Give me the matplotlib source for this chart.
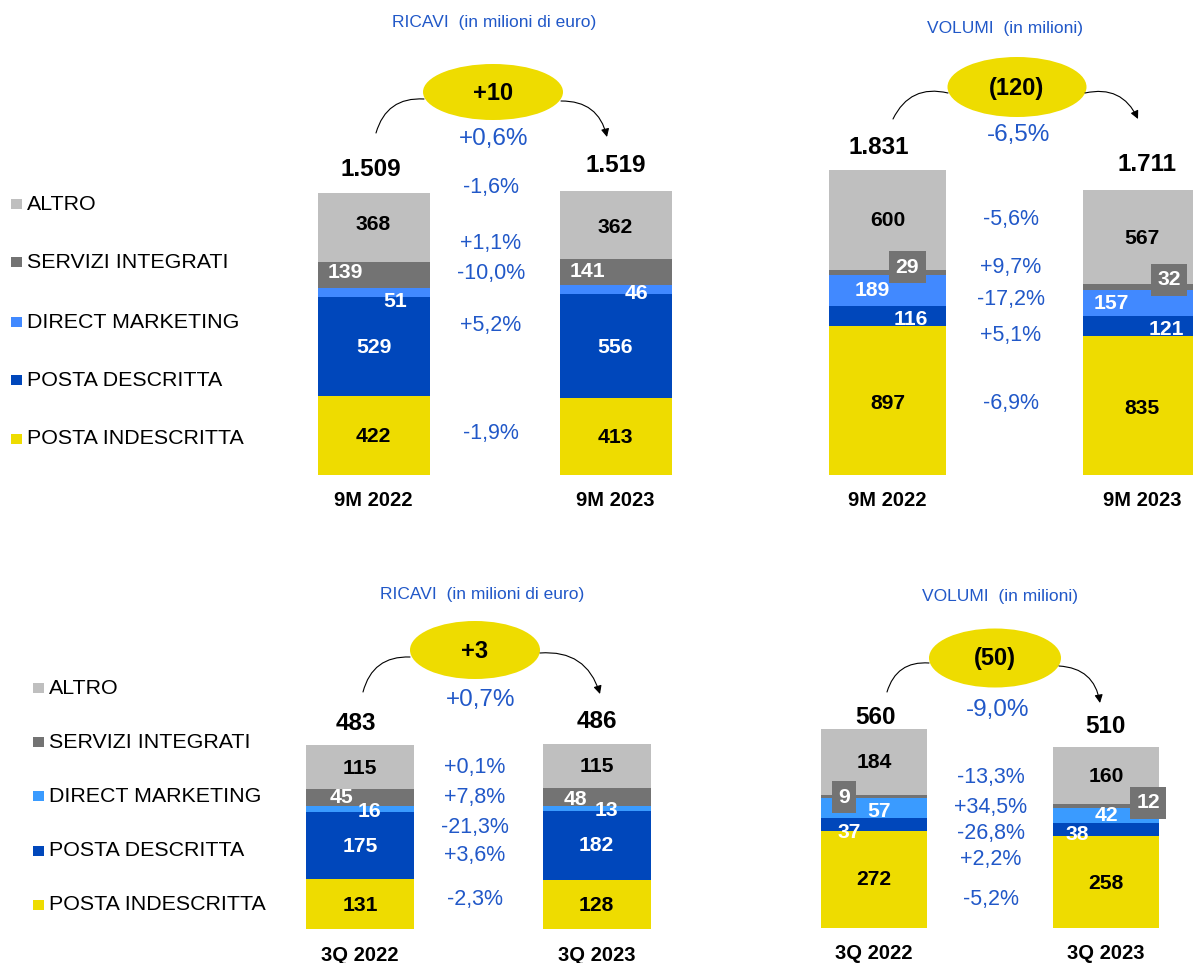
import matplotlib
matplotlib.use("Agg")
import matplotlib.pyplot as plt
from matplotlib.patches import Ellipse, FancyArrowPatch
from matplotlib.transforms import ScaledTranslation

plt.rcParams['font.family'] = ['Liberation Sans', 'DejaVu Sans']

W, H = 1193, 963

# segments, bottom to top
categorie = ["POSTA INDESCRITTA", "POSTA DESCRITTA", "DIRECT MARKETING",
             "SERVIZI INTEGRATI", "ALTRO"]

ricavi_9m_2022 = [422, 529, 51, 139, 368]
ricavi_9m_2023 = [413, 556, 46, 141, 362]
volumi_9m_2022 = [897, 116, 189, 29, 600]
volumi_9m_2023 = [835, 121, 157, 32, 567]
ricavi_3q_2022 = [131, 175, 16, 45, 115]
ricavi_3q_2023 = [128, 182, 13, 48, 115]
volumi_3q_2022 = [272, 37, 57, 9, 184]
volumi_3q_2023 = [258, 38, 42, 12, 160]

totali_ricavi_9m = ["1.509", "1.519"]
totali_volumi_9m = ["1.831", "1.711"]
totali_ricavi_3q = ["483", "486"]
totali_volumi_3q = ["560", "510"]

periodi_9m = ["9M 2022", "9M 2023"]
periodi_3q = ["3Q 2022", "3Q 2023"]

# variations per segment, top to bottom (ALTRO first)
var_ricavi_9m = ["-1,6%", "+1,1%", "-10,0%", "+5,2%", "-1,9%"]
var_volumi_9m = ["-5,6%", "+9,7%", "-17,2%", "+5,1%", "-6,9%"]
var_ricavi_3q = ["+0,1%", "+7,8%", "-21,3%", "+3,6%", "-2,3%"]
var_volumi_3q = ["-13,3%", "+34,5%", "-26,8%", "+2,2%", "-5,2%"]

delta_ricavi_9m, delta_pct_ricavi_9m = "+10", "+0,6%"
delta_volumi_9m, delta_pct_volumi_9m = "(120)", "-6,5%"
delta_ricavi_3q, delta_pct_ricavi_3q = "+3", "+0,7%"
delta_volumi_3q, delta_pct_volumi_3q = "(50)", "-9,0%"

YELLOW = "#EEDC00"
DBLUE = "#0047BB"
LBLUE_TOP = "#4189FF"
LBLUE_BOT = "#3A9BFF"
DGRAY = "#737373"
LGRAY = "#BFBFBF"
TXT_BLUE = "#2158C8"

INK = ["black", "white", "white", "white", "black"]

fig = plt.figure(figsize=(W / 100, H / 100), dpi=100)

panels = [
    dict(series=[ricavi_9m_2022, ricavi_9m_2023], totals=totali_ricavi_9m,
         periods=periodi_9m, var=var_ricavi_9m,
         delta=delta_ricavi_9m, delta_pct=delta_pct_ricavi_9m,
         title="RICAVI  (in milioni di euro)", lblue=LBLUE_TOP,
         base=475, scale=0.1869, cx=[373.5, 615.5], bw=112,
         offs=[[(0, 1), (0, 1), (22, 9), (-28, -2), (0, -3)],
               [(0, 1), (0, 2), (21, 4), (-28, -1), (0, 2)]],
         boxed=[], tot_off=[(-3, 23), (0, 26)], cat_y=500,
         title_xy=(494, 23), ell=(493, 92, 140, 56), dpct_xy=(494, 139),
         arcs=[((376, 133), (424, 99)), ((561, 101), (607, 137))],
         var_x=491, var_y=[187, 243, 274, 326, 433]),
    dict(series=[volumi_9m_2022, volumi_9m_2023], totals=totali_volumi_9m,
         periods=periodi_9m, var=var_volumi_9m,
         delta=delta_volumi_9m, delta_pct=delta_pct_volumi_9m,
         title="VOLUMI  (in milioni)", lblue=LBLUE_TOP,
         base=475, scale=0.1666, cx=[887.5, 1142], bw=118,
         offs=[[(0, 3), (23, 4), (-15, 0), (20, -5), (0, 1)],
               [(0, 3), (24, 4), (-31, 1), (27, -7), (0, 1)]],
         boxed=[3], tot_off=[(-9, 22), (5, 25)], cat_y=500,
         title_xy=(1005, 28), ell=(1017, 87, 139, 60), dpct_xy=(1019, 135),
         arcs=[((893, 119), (948, 93)), ((1085, 93), (1138, 119))],
         var_x=1011, var_y=[220, 268, 300, 336, 404]),
    dict(series=[ricavi_3q_2022, ricavi_3q_2023], totals=totali_ricavi_3q,
         periods=periodi_3q, var=var_ricavi_3q,
         delta=delta_ricavi_3q, delta_pct=delta_pct_ricavi_3q,
         title="RICAVI  (in milioni di euro)", lblue=LBLUE_BOT,
         base=929, scale=0.381, cx=[360, 596.5], bw=108,
         offs=[[(0, 1), (0, 1), (9, 2), (-18, 0), (0, 1)],
               [(0, 1), (0, 0), (10, 2), (-21, 3), (0, 1)]],
         boxed=[], tot_off=[(-4, 22), (0, 22)], cat_y=955,
         title_xy=(482, 594), ell=(475, 650, 130, 58), dpct_xy=(481, 700),
         arcs=[((363, 692), (410, 657)), ((540, 653), (600, 694))],
         var_x=475, var_y=[767, 798, 827, 856, 900]),
    dict(series=[volumi_3q_2022, volumi_3q_2023], totals=totali_volumi_3q,
         periods=periodi_3q, var=var_volumi_3q,
         delta=delta_volumi_3q, delta_pct=delta_pct_volumi_3q,
         title="VOLUMI  (in milioni)", lblue=LBLUE_BOT,
         base=928, scale=0.3554, cx=[874, 1106], bw=106,
         offs=[[(0, 0), (-25, 8), (5, 3), (-30, 1), (0, 0)],
               [(0, 1), (-29, 5), (0, 0), (42, -3), (0, 1)]],
         boxed=[3], tot_off=[(2, 12), (-1, 20)], cat_y=953,
         title_xy=(1000, 597), ell=(995, 658, 132, 59), dpct_xy=(998, 710),
         arcs=[((887, 692), (929, 663)), ((1059, 666), (1100, 703))],
         var_x=991, var_y=[777, 807, 834, 860, 899]),
]

HPX = 340
for p in panels:
    cx0, cx1 = p["cx"]
    bw = p["bw"]
    left = cx0 - bw / 2
    right = cx1 + bw / 2
    ax = fig.add_axes([left / W, 1 - p["base"] / H, (right - left) / W, HPX / H])
    wd = bw / (cx1 - cx0)
    ax.set_xlim(-wd / 2, 1 + wd / 2)
    ax.set_ylim(0, HPX / p["scale"])
    ax.axis("off")
    colors = [YELLOW, DBLUE, p["lblue"], DGRAY, LGRAY]

    for i, vals in enumerate(p["series"]):
        bottom = 0
        for k, v in enumerate(vals):
            ax.bar(i, v, bottom=bottom, width=wd, color=colors[k], linewidth=0)
            dx, dy = p["offs"][i][k]
            tr = ax.transData + ScaledTranslation(dx / 100, -dy / 100, fig.dpi_scale_trans)
            kw = {}
            if k in p["boxed"]:
                kw["bbox"] = dict(boxstyle="square,pad=0.3", fc=DGRAY, ec="none")
            ax.text(i, bottom + v / 2, str(v), transform=tr, ha="center", va="center",
                    fontsize=15.2, fontweight="bold", color=INK[k], clip_on=False, **kw)
            bottom += v
        dx, dy = p["tot_off"][i]
        tr = ax.transData + ScaledTranslation(dx / 100, dy / 100, fig.dpi_scale_trans)
        ax.text(i, bottom, p["totals"][i], transform=tr, ha="center", va="center",
                fontsize=17.5, fontweight="bold", color="black", clip_on=False)
        # period label under each bar
        ax.text(i, 0, p["periods"][i], ha="center", va="center", fontsize=14.5,
                fontweight="bold", clip_on=False,
                transform=ax.transData + ScaledTranslation(0, -(p["cat_y"] - p["base"]) / 100,
                                                           fig.dpi_scale_trans))

# overlay in pixel coordinates for titles, bubbles, arrows, variations and legends
ov = fig.add_axes([0, 0, 1, 1], zorder=5)
ov.set_xlim(0, W)
ov.set_ylim(H, 0)
ov.axis("off")
ov.patch.set_alpha(0)

for p in panels:
    ov.text(*p["title_xy"], p["title"], ha="center", va="center", fontsize=12.5, color=TXT_BLUE)
    ex, ey, ew, eh = p["ell"]
    ov.add_patch(Ellipse((ex, ey), ew, eh, fc=YELLOW, ec="none"))
    ov.text(ex, ey + 1, p["delta"], ha="center", va="center", fontsize=17,
            fontweight="bold", color="black")
    ov.text(*p["dpct_xy"], p["delta_pct"], ha="center", va="center", fontsize=17.5, color=TXT_BLUE)
    (a0, a1), (b0, b1) = p["arcs"]
    ov.add_patch(FancyArrowPatch(a0, a1, connectionstyle="arc3,rad=-0.4", arrowstyle="-",
                                 lw=0.8, color="black", shrinkA=0, shrinkB=0))
    ov.add_patch(FancyArrowPatch(b0, b1, connectionstyle="arc3,rad=-0.4", arrowstyle="-|>",
                                 mutation_scale=12, lw=0.8, color="black", shrinkA=0, shrinkB=0))
    for txt, y in zip(p["var"], p["var_y"]):
        ov.text(p["var_x"], y, txt, ha="center", va="center", fontsize=15.5, color=TXT_BLUE)

legend_rows = [
    dict(sq_x=11, txt_x=27, ys=[204, 262, 322, 380, 439], lblue=LBLUE_TOP),
    dict(sq_x=33, txt_x=49, ys=[688, 742, 796, 851, 905], lblue=LBLUE_BOT),
]
for lg in legend_rows:
    colors = [LGRAY, DGRAY, lg["lblue"], DBLUE, YELLOW]
    names = categorie[::-1]
    for name, c, y in zip(names, colors, lg["ys"]):
        ov.add_patch(plt.Rectangle((lg["sq_x"], y - 5), 10.5, 10.5, fc=c, ec="none"))
        ov.text(lg["txt_x"], y, name, ha="left", va="center", fontsize=15.4, color="black")

fig.savefig("out.png", dpi=100)
